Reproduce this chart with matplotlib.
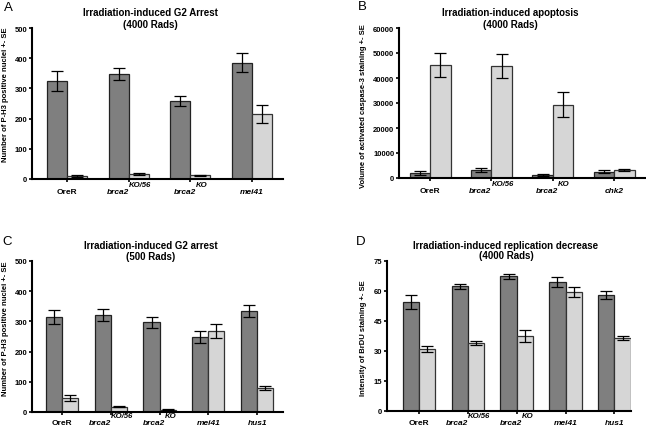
import numpy as np
import matplotlib
matplotlib.use('Agg')
import matplotlib.pyplot as plt
from matplotlib import transforms

plt.rcParams['font.family'] = ['Liberation Sans', 'DejaVu Sans']

DARK = '#7f7f7f'
LIGHT = '#d6d6d6'

# Category labels: (base text, superscript, italic)
# ---- Panel A: Irradiation-induced G2 Arrest (4000 Rads)
a_labels = [('OreR', '', False), ('brca2', 'KO/56', True), ('brca2', 'KO', True), ('mei41', '', True)]
a_dark = [325, 348, 258, 385]
a_dark_se = [33, 20, 16, 32]
a_light = [10, 17, 12, 215]
a_light_se = [2, 4, 2, 30]
a_yticks = [0, 100, 200, 300, 400, 500]

# ---- Panel B: Irradiation-induced apoptosis (4000 Rads)
b_labels = [('OreR', '', False), ('brca2', 'KO/56', True), ('brca2', 'KO', True), ('chk2', '', True)]
b_dark = [2200, 3200, 1200, 2500]
b_dark_se = [800, 700, 300, 600]
b_light = [45300, 44900, 29400, 3200]
b_light_se = [4700, 4800, 4900, 500]
b_yticks = [0, 10000, 20000, 30000, 40000, 50000, 60000]

# ---- Panel C: Irradiation-induced G2 arrest (500 Rads)
c_labels = [('OreR', '', False), ('brca2', 'KO/56', True), ('brca2', 'KO', True), ('mei41', '', True), ('hus1', '', True)]
c_dark = [315, 320, 297, 248, 335]
c_dark_se = [23, 20, 18, 20, 20]
c_light = [47, 18, 8, 268, 79]
c_light_se = [9, 3, 2, 24, 6]
c_yticks = [0, 100, 200, 300, 400, 500]

# ---- Panel D: Irradiation-induced replication decrease (4000 Rads)
d_labels = [('OreR', '', False), ('brca2', 'KO/56', True), ('brca2', 'KO', True), ('mei41', '', True), ('hus1', '', True)]
d_dark = [54.5, 62.3, 67.3, 64.7, 58.0]
d_dark_se = [3.5, 1.2, 1.2, 2.5, 1.8]
d_light = [31.0, 33.8, 37.3, 59.5, 36.3]
d_light_se = [1.5, 1.0, 3.0, 2.3, 1.0]
d_yticks = [0, 15, 30, 45, 60, 75]

W, H = 646, 427
fig = plt.figure(figsize=(W / 100, H / 100), dpi=100)
renderer = fig.canvas.get_renderer()


def px_axes(x0, y_top, x1, y_bot):
    return fig.add_axes([x0 / W, 1 - y_bot / H, (x1 - x0) / W, (y_bot - y_top) / H])


def cat_labels(ax, labels, base_drop):
    base_tr = transforms.blended_transform_factory(ax.transData, ax.transAxes)
    for i, (base, sup, ital) in enumerate(labels):
        style = 'italic' if ital else 'normal'
        t1 = ax.text(i, 0, base, fontsize=6, fontweight='bold', style=style,
                     ha='left', va='baseline', transform=base_tr, clip_on=False)
        w1 = t1.get_window_extent(renderer).width
        w2 = 0
        t2 = None
        if sup:
            t2 = ax.text(i, 0, sup, fontsize=5.6, fontweight='bold', style=style,
                         ha='left', va='baseline', transform=base_tr, clip_on=False)
            w2 = t2.get_window_extent(renderer).width
        x0 = -(w1 + w2) / 2
        t1.set_transform(transforms.offset_copy(base_tr, fig=fig, x=x0, y=-base_drop, units='dots'))
        if t2 is not None:
            t2.set_transform(transforms.offset_copy(base_tr, fig=fig, x=x0 + w1 + 0.3,
                                                    y=-base_drop + 7, units='dots'))


def panel(ax, labels, dark, dse, light, lse, yticks, xlim, bw, base_drop=13.8):
    x = np.arange(len(labels))
    ax.bar(x - bw / 2, dark, bw, color=DARK, edgecolor='#222222', linewidth=0.9, zorder=2)
    ax.bar(x + bw / 2, light, bw, color=LIGHT, edgecolor='#333333', linewidth=0.9, zorder=2)
    ax.errorbar(x - bw / 2, dark, yerr=dse, fmt='none', ecolor='black', elinewidth=0.9,
                capsize=4.2, capthick=0.9, zorder=3)
    ax.errorbar(x + bw / 2, light, yerr=lse, fmt='none', ecolor='black', elinewidth=0.9,
                capsize=4.2, capthick=0.9, zorder=3)
    ax.set_xlim(*xlim)
    ax.set_ylim(yticks[0], yticks[-1])
    ax.set_yticks(yticks)
    ax.set_yticklabels([str(t) for t in yticks], fontsize=5.5, fontweight='bold')
    ax.set_xticks(x)
    ax.set_xticklabels([''] * len(x))
    for s in ['top', 'right']:
        ax.spines[s].set_visible(False)
    for s in ['left', 'bottom']:
        ax.spines[s].set_linewidth(1.5)
    ax.tick_params(axis='y', direction='out', length=2.5, width=1.2, pad=0.8)
    ax.tick_params(axis='x', direction='out', length=2.5, width=1.2, pad=2)
    ax.patch.set_alpha(0)
    cat_labels(ax, labels, base_drop)


axA = px_axes(32, 29, 283, 180)
panel(axA, a_labels, a_dark, a_dark_se, a_light, a_light_se, a_yticks, (-0.567, 3.50), 0.324)
axB = px_axes(399, 29, 646, 179)
panel(axB, b_labels, b_dark, b_dark_se, b_light, b_light_se, b_yticks, (-0.506, 3.52), 0.334)
axC = px_axes(32, 262, 283, 413)
panel(axC, c_labels, c_dark, c_dark_se, c_light, c_light_se, c_yticks, (-0.615, 4.53), 0.33, 12.5)
axD = px_axes(387, 262, 631, 412)
panel(axD, d_labels, d_dark, d_dark_se, d_light, d_light_se, d_yticks, (-0.656, 4.34), 0.334, 12.8)


def ftext(xp, yp, s, **kw):
    fig.text(xp / W, 1 - yp / H, s, ha='center', va='center', **kw)


tkw = dict(fontsize=7, fontweight='bold')
ftext(150.5, 12.5, 'Irradiation-induced G2 Arrest', **tkw)
ftext(150.5, 24.5, '(4000 Rads)', **tkw)
ftext(510, 12.5, 'Irradiation-induced apoptosis', **tkw)
ftext(510, 24.5, '(4000 Rads)', **tkw)
ftext(151, 245.7, 'Irradiation-induced G2 arrest', **tkw)
ftext(151, 256.7, '(500 Rads)', **tkw)
ftext(506, 245.7, 'Irradiation-induced replication decrease', **tkw)
ftext(506, 256, '(4000 Rads)', **tkw)

ykw = dict(fontsize=5.5, fontweight='bold', rotation=90)
ftext(6, 95, 'Number of P-H3 positive nuclei +- SE', **ykw)
ftext(363, 106, 'Volume of activated caspase-3 staining +- SE', **ykw)
ftext(6, 329, 'Number of P-H3 positive nuclei +- SE', **ykw)
ftext(363, 338, 'Intensity of BrDU staining +- SE', **ykw)

lkw = dict(fontsize=9.5)
ftext(8, 8, 'A', **lkw)
ftext(362, 7.5, 'B', **lkw)
ftext(7.5, 242.5, 'C', **lkw)
ftext(361, 242.5, 'D', **lkw)

fig.savefig('out.png', dpi=100)
